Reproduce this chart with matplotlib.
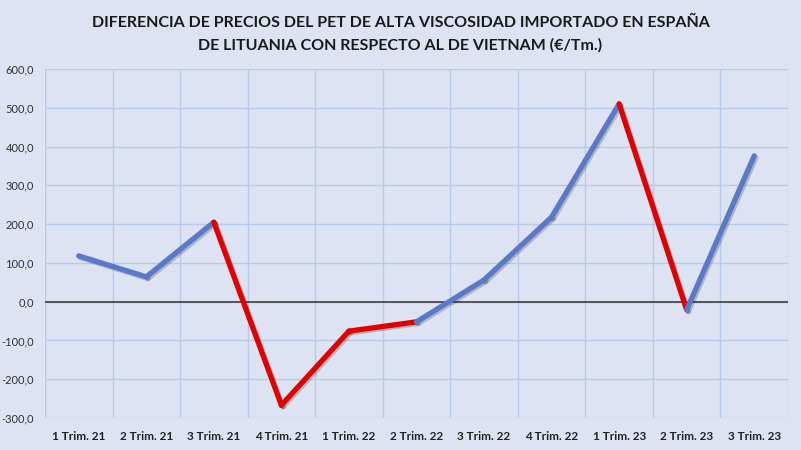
import matplotlib.pyplot as plt
import matplotlib.patheffects as pe
import numpy as np

trimestres = ['1 Trim. 21', '2 Trim. 21', '3 Trim. 21', '4 Trim. 21', '1 Trim. 22', '2 Trim. 22',
              '3 Trim. 22', '4 Trim. 22', '1 Trim. 23', '2 Trim. 23', '3 Trim. 23']
diferencia = [118, 64, 205, -267, -76, -52, 56, 218, 510, -21, 376]
yticks = [-300, -200, -100, 0, 100, 200, 300, 400, 500, 600]

titulo = ('DIFERENCIA DE PRECIOS DEL PET DE ALTA VISCOSIDAD IMPORTADO EN ESPAÑA\n'
          'DE LITUANIA CON RESPECTO AL DE VIETNAM (€/Tm.)')

plt.rcParams['font.family'] = ['Lato', 'DejaVu Sans']

fondo = '#dde3f3'
fig = plt.figure(figsize=(8.01, 4.5), dpi=100, facecolor=fondo)
ax = fig.add_axes([45 / 801, 1 - 418 / 450, (788 - 45) / 801, (418 - 69) / 450])
ax.set_facecolor(fondo)

x = np.arange(len(diferencia))
sombra = [pe.SimpleLineShadow(offset=(1.2, -1.2), alpha=0.2), pe.Normal()]
for i in range(len(diferencia) - 1):
    # tramo en rojo cuando termina en valor negativo
    color = '#e00000' if diferencia[i + 1] < 0 else '#5a79c8'
    ax.plot(x[i:i + 2], diferencia[i:i + 2], color=color, lw=3.8,
            solid_capstyle='round', path_effects=sombra, zorder=3)

ax.axhline(0, color='#404040', lw=1.2, zorder=2)

ax.set_xlim(-0.5, len(diferencia) - 0.5)
ax.set_ylim(-300, 600)
ax.set_yticks(yticks)
ax.set_yticklabels([f'{v:.1f}'.replace('.', ',') for v in yticks], fontsize=8, color='#333333')
ax.set_xticks(x)
ax.set_xticklabels(trimestres, fontsize=8.5, fontweight='bold', color='#222222')
ax.set_xticks(np.arange(-0.5, len(diferencia)), minor=True)
ax.tick_params(which='both', length=0)
ax.tick_params(axis='x', pad=9)
ax.tick_params(axis='y', pad=8)
ax.grid(axis='y', which='major', color='#b9c9ec', lw=1)
ax.grid(axis='x', which='minor', color='#b9c9ec', lw=1)
for s in ax.spines.values():
    s.set_visible(False)
ax.set_axisbelow(True)

fig.text(0.5, 0.965, titulo, ha='center', va='top', fontsize=11.5, fontweight='bold',
         color='#1a1a1a', linespacing=1.75)

fig.savefig('out.png', dpi=100, facecolor=fondo)
